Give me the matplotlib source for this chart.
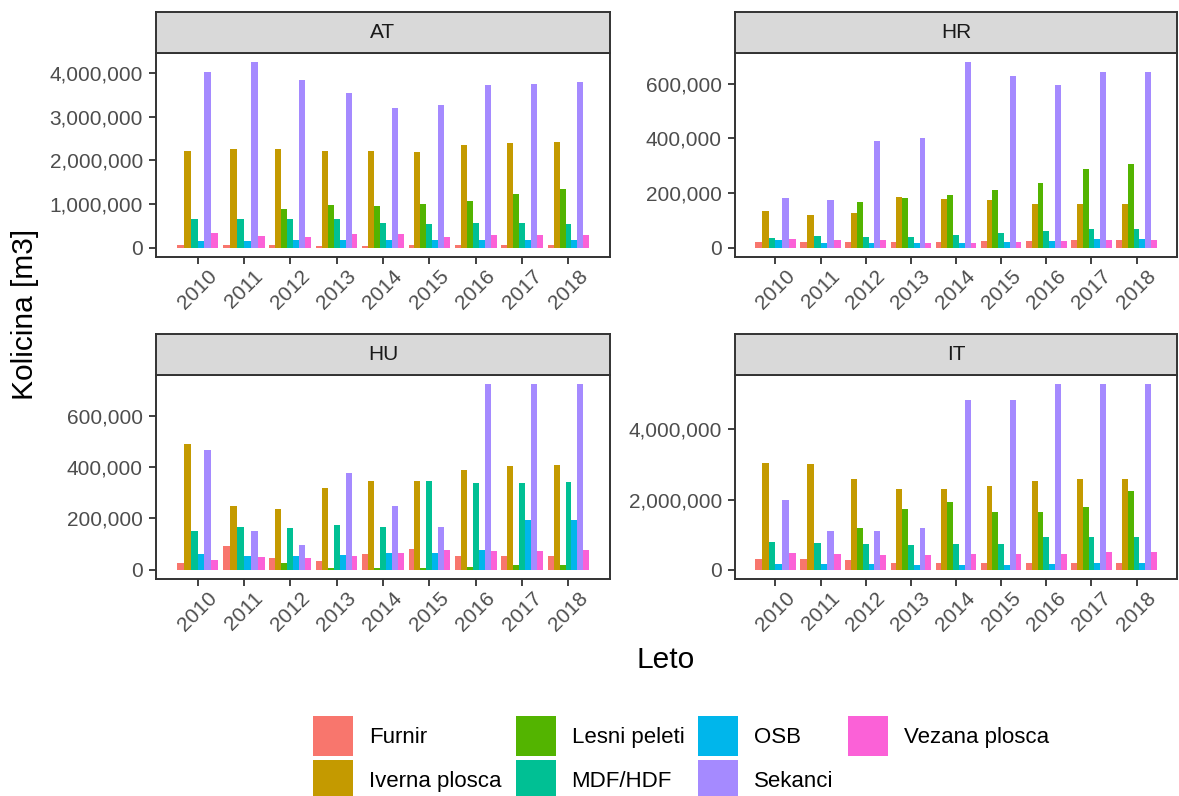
import numpy as np
import matplotlib
matplotlib.use("Agg")
import matplotlib.pyplot as plt
from matplotlib.patches import Patch
from matplotlib.ticker import FuncFormatter

plt.rcParams['font.family'] = ['Liberation Sans', 'DejaVu Sans']

nan = np.nan
years = [2010, 2011, 2012, 2013, 2014, 2015, 2016, 2017, 2018]
categories = ['Furnir', 'Iverna plosca', 'Lesni peleti', 'MDF/HDF', 'OSB', 'Sekanci', 'Vezana plosca']
colors = ['#F8766D', '#C49A00', '#53B400', '#00C094', '#00B6EB', '#A58AFF', '#FB61D7']
countries = ['AT', 'HR', 'HU', 'IT']

# rows follow categories, columns follow years
at_values = [
    [60000, 60000, 60000, 38000, 38000, 60000, 60000, 60000, 60000],
    [2210000, 2255000, 2255000, 2210000, 2210000, 2187000, 2347000, 2392000, 2415000],
    [nan, nan, 884000, 975000, 952000, 998000, 1067000, 1227000, 1341000],
    [655000, 655000, 655000, 655000, 564000, 541000, 564000, 564000, 541000],
    [152000, 152000, 175000, 175000, 175000, 175000, 175000, 175000, 175000],
    [4015000, 4244000, 3830000, 3535000, 3190000, 3260000, 3718000, 3741000, 3787000],
    [335000, 267000, 244000, 312000, 312000, 244000, 290000, 290000, 290000],
]
hr_values = [
    [21000, 21000, 21000, 21000, 21000, 24000, 24000, 28000, 28000],
    [134000, 120000, 127000, 185000, 178000, 174000, 160000, 160000, 160000],
    [nan, nan, 167000, 182000, 193000, 211000, 237000, 288000, 306000],
    [35000, 43000, 39000, 39000, 46000, 54000, 61000, 68000, 68000],
    [28000, 17000, 17000, 17000, 17000, 21000, 24000, 32000, 32000],
    [182000, 174000, 390000, 401000, 679000, 628000, 595000, 643000, 643000],
    [32000, 28000, 28000, 17000, 17000, 21000, 24000, 28000, 28000],
]
hu_values = [
    [27000, 94000, 47000, 35000, 62000, 82000, 55000, 55000, 55000],
    [488000, 250000, 238000, 320000, 347000, 347000, 390000, 402000, 406000],
    [nan, nan, 27000, 8000, 8000, 8000, 12000, 20000, 20000],
    [152000, 168000, 164000, 176000, 168000, 344000, 336000, 336000, 340000],
    [62000, 55000, 55000, 59000, 66000, 66000, 78000, 195000, 195000],
    [468000, 152000, 98000, 375000, 250000, 168000, 722000, 722000, 722000],
    [39000, 51000, 47000, 55000, 66000, 78000, 74000, 74000, 78000],
]
it_values = [
    [314000, 314000, 286000, 200000, 200000, 200000, 200000, 200000, 200000],
    [3030000, 3000000, 2600000, 2314000, 2314000, 2400000, 2543000, 2600000, 2600000],
    [nan, nan, 1200000, 1743000, 1943000, 1657000, 1657000, 1800000, 2257000],
    [800000, 770000, 743000, 714000, 743000, 743000, 943000, 943000, 943000],
    [170000, 170000, 170000, 143000, 143000, 143000, 170000, 200000, 200000],
    [2000000, 1114000, 1114000, 1200000, 4830000, 4830000, 5286000, 5286000, 5286000],
    [486000, 457000, 430000, 430000, 457000, 457000, 457000, 514000, 514000],
]
y_ticks = {
    'AT': [0, 1000000, 2000000, 3000000, 4000000],
    'HR': [0, 200000, 400000, 600000],
    'HU': [0, 200000, 400000, 600000],
    'IT': [0, 2000000, 4000000],
}

W, H = 1179, 796
fig = plt.figure(figsize=(W / 100, H / 100), dpi=100)

def px_axes(left, top, right, bottom):
    return fig.add_axes([left / W, 1 - bottom / H, (right - left) / W, (bottom - top) / H])

line_col = '#333333'
panels = {
    'AT': (156, 53, 610, 257),
    'HR': (735, 53, 1177, 257),
    'HU': (156, 375, 610, 579),
    'IT': (735, 375, 1177, 579),
}
data = {'AT': at_values, 'HR': hr_values, 'HU': hu_values, 'IT': it_values}
fmt = FuncFormatter(lambda v, p: '{:,.0f}'.format(v))

for country in countries:
    left, top, right, bottom = panels[country]
    ax = px_axes(left, top, right, bottom)
    vals = np.array(data[country], dtype=float)
    # dodge like ggplot: only the categories present in a year share the 0.9 width
    for j, yr in enumerate(years):
        present = [i for i in range(len(categories)) if not np.isnan(vals[i, j])]
        n = len(present)
        w = 0.9 / n
        for k, i in enumerate(present):
            ax.bar(yr - 0.45 + (k + 0.5) * w, vals[i, j], width=w, color=colors[i], linewidth=0)
    ymax = np.nanmax(vals)
    ax.set_ylim(-0.05 * ymax, ymax * 1.05)
    xlo, xhi = years[0] - 0.45, years[-1] + 0.45
    ax.set_xlim(xlo - 0.05 * (xhi - xlo), xhi + 0.05 * (xhi - xlo))
    ax.set_xticks(years)
    ax.set_xticklabels([str(y) for y in years], rotation=45, ha='center', va='top')
    ax.set_yticks(y_ticks[country])
    ax.yaxis.set_major_formatter(fmt)
    ax.tick_params(axis='both', length=5, width=1.3, color=line_col, labelsize=15,
                   labelcolor='#4D4D4D')
    ax.tick_params(axis='x', pad=2)
    ax.tick_params(axis='y', pad=4.5)
    for sp in ax.spines.values():
        sp.set_linewidth(1.4)
        sp.set_color(line_col)
    # strip on top of the panel
    sax = px_axes(left, top - 41, right, top)
    sax.set_xticks([])
    sax.set_yticks([])
    sax.set_facecolor('#D9D9D9')
    for sp in sax.spines.values():
        sp.set_linewidth(1.4)
        sp.set_color(line_col)
    sax.text(0.5, 0.5, country, ha='center', va='center', fontsize=15, color='#1A1A1A',
             transform=sax.transAxes)

fig.text(33 / W, 1 - 314 / H, 'Kolicina [m3]', rotation=90, rotation_mode='anchor',
         ha='center', va='baseline', fontsize=21.5, color='black')
fig.text(666 / W, 1 - 668 / H, 'Leto', ha='center', va='baseline', fontsize=21.5, color='black')

handles = [Patch(facecolor=c, edgecolor='none') for c in colors]
fs = 16
fig.legend(handles, categories, ncol=4, loc='upper left',
           bbox_to_anchor=(313 / W, 1 - 716 / H), frameon=False, fontsize=fs,
           handlelength=1.8, handleheight=2.39, handletextpad=0.72,
           labelspacing=0.18, columnspacing=0.63, borderpad=0, borderaxespad=0)

fig.savefig('out.png', dpi=100)
